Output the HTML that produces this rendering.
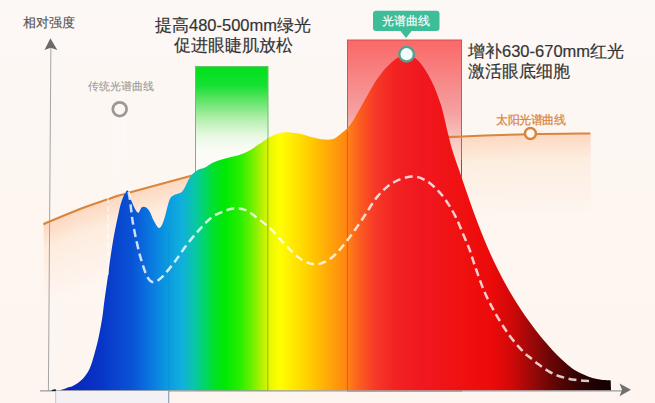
<!DOCTYPE html>
<html><head><meta charset="utf-8">
<style>
html,body{margin:0;padding:0;background:linear-gradient(#fcf8f5,#fdf6f1 50%,#fef5f0);}
body{width:655px;height:403px;overflow:hidden;position:relative;font-family:"Liberation Sans",sans-serif;}
svg{position:absolute;left:0;top:0;}
.t{position:absolute;white-space:nowrap;}
</style></head><body>
<svg width="655" height="403" viewBox="0 0 655 403">
<defs>
<linearGradient id="spec" x1="60" y1="0" x2="611" y2="0" gradientUnits="userSpaceOnUse">
<stop offset="0" stop-color="#0822b8"/>
<stop offset="0.0726" stop-color="#0834c6"/>
<stop offset="0.1325" stop-color="#0a54d6"/>
<stop offset="0.1633" stop-color="#0a76e0"/>
<stop offset="0.1906" stop-color="#0a96e0"/>
<stop offset="0.2214" stop-color="#10b0dc"/>
<stop offset="0.2468" stop-color="#08c8a0"/>
<stop offset="0.2650" stop-color="#00d860"/>
<stop offset="0.2795" stop-color="#00e028"/>
<stop offset="0.3013" stop-color="#00ea00"/>
<stop offset="0.3267" stop-color="#28ee00"/>
<stop offset="0.3466" stop-color="#66f000"/>
<stop offset="0.3666" stop-color="#b4f000"/>
<stop offset="0.3829" stop-color="#eef800"/>
<stop offset="0.3993" stop-color="#ffff00"/>
<stop offset="0.4574" stop-color="#ffc800"/>
<stop offset="0.5154" stop-color="#ff8a10"/>
<stop offset="0.5263" stop-color="#ff7a18"/>
<stop offset="0.5445" stop-color="#fc5c20"/>
<stop offset="0.5717" stop-color="#f63a28"/>
<stop offset="0.6080" stop-color="#f22222"/>
<stop offset="0.6534" stop-color="#f01820"/>
<stop offset="0.7314" stop-color="#f01010"/>
<stop offset="0.7840" stop-color="#ec0a0a"/>
<stop offset="0.8203" stop-color="#d00808"/>
<stop offset="0.8566" stop-color="#9c0808"/>
<stop offset="0.8929" stop-color="#660606"/>
<stop offset="0.9347" stop-color="#380303"/>
<stop offset="0.9764" stop-color="#1c0101"/>
<stop offset="1" stop-color="#150000"/>
</linearGradient>
<linearGradient id="sunf" x1="0" y1="134" x2="0" y2="320" gradientUnits="userSpaceOnUse">
<stop offset="0" stop-color="#fbe0cc" stop-opacity="0.55"/>
<stop offset="0.45" stop-color="#fce6d8" stop-opacity="0.45"/>
<stop offset="0.75" stop-color="#fdeee4" stop-opacity="0.25"/>
<stop offset="1" stop-color="#fdf6f1" stop-opacity="0"/>
</linearGradient>
<linearGradient id="grn" x1="0" y1="66" x2="0" y2="170" gradientUnits="userSpaceOnUse">
<stop offset="0" stop-color="#00e01a"/>
<stop offset="0.183" stop-color="#14e032"/>
<stop offset="0.327" stop-color="#5ee466"/>
<stop offset="0.500" stop-color="#b0eeaa"/>
<stop offset="0.663" stop-color="#e6f8e0"/>
<stop offset="0.808" stop-color="#fbfcf6"/>
<stop offset="1" stop-color="#fdfdfa" stop-opacity="0.7"/>
</linearGradient>
<linearGradient id="red" x1="0" y1="40" x2="0" y2="190" gradientUnits="userSpaceOnUse">
<stop offset="0" stop-color="#fb6868"/>
<stop offset="0.48" stop-color="#f5a0a0"/>
<stop offset="0.67" stop-color="#f8c8c0"/>
<stop offset="1" stop-color="#fdf0ea" stop-opacity="0.5"/>
</linearGradient>
</defs>
<!-- sun fill -->
<path d="M43.4,224.2 C49.5,221.7 68.1,213.6 80.0,209.0 C91.9,204.4 107.5,199.3 115.0,196.8 C122.5,194.3 112.4,197.3 125.0,193.8 C137.6,190.3 169.7,181.5 190.5,175.9 C211.3,170.3 228.4,164.7 250.0,160.0 C271.6,155.3 295.0,151.3 320.0,148.0 C345.0,144.7 376.3,141.9 400.0,140.0 C423.7,138.1 440.2,137.5 462.0,136.5 C483.8,135.5 509.1,134.7 530.5,134.2 C551.9,133.7 580.4,133.6 590.4,133.5 L590.4,139.5 C580.4,139.6 551.9,139.7 530.5,140.2 C509.1,140.7 483.8,141.5 462.0,142.5 C440.2,143.5 423.7,144.1 400.0,146.0 C376.3,147.9 345.0,150.7 320.0,154.0 C295.0,157.3 271.6,161.3 250.0,166.0 C228.4,170.7 211.3,176.3 190.5,181.9 C169.7,187.5 137.6,196.3 125.0,199.8 C112.4,203.3 122.5,200.3 115.0,202.8 C107.5,205.3 91.9,210.4 80.0,215.0 C68.1,219.6 49.5,227.7 43.4,230.2 Z" fill="#f9d0b2" fill-opacity="0.032"/>
<path d="M43.4,224.2 C49.5,221.7 68.1,213.6 80.0,209.0 C91.9,204.4 107.5,199.3 115.0,196.8 C122.5,194.3 112.4,197.3 125.0,193.8 C137.6,190.3 169.7,181.5 190.5,175.9 C211.3,170.3 228.4,164.7 250.0,160.0 C271.6,155.3 295.0,151.3 320.0,148.0 C345.0,144.7 376.3,141.9 400.0,140.0 C423.7,138.1 440.2,137.5 462.0,136.5 C483.8,135.5 509.1,134.7 530.5,134.2 C551.9,133.7 580.4,133.6 590.4,133.5 L590.4,145.5 C580.4,145.6 551.9,145.7 530.5,146.2 C509.1,146.7 483.8,147.5 462.0,148.5 C440.2,149.5 423.7,150.1 400.0,152.0 C376.3,153.9 345.0,156.7 320.0,160.0 C295.0,163.3 271.6,167.3 250.0,172.0 C228.4,176.7 211.3,182.3 190.5,187.9 C169.7,193.5 137.6,202.3 125.0,205.8 C112.4,209.3 122.5,206.3 115.0,208.8 C107.5,211.3 91.9,216.4 80.0,221.0 C68.1,225.6 49.5,233.7 43.4,236.2 Z" fill="#f9d0b2" fill-opacity="0.032"/>
<path d="M43.4,224.2 C49.5,221.7 68.1,213.6 80.0,209.0 C91.9,204.4 107.5,199.3 115.0,196.8 C122.5,194.3 112.4,197.3 125.0,193.8 C137.6,190.3 169.7,181.5 190.5,175.9 C211.3,170.3 228.4,164.7 250.0,160.0 C271.6,155.3 295.0,151.3 320.0,148.0 C345.0,144.7 376.3,141.9 400.0,140.0 C423.7,138.1 440.2,137.5 462.0,136.5 C483.8,135.5 509.1,134.7 530.5,134.2 C551.9,133.7 580.4,133.6 590.4,133.5 L590.4,151.5 C580.4,151.6 551.9,151.7 530.5,152.2 C509.1,152.7 483.8,153.5 462.0,154.5 C440.2,155.5 423.7,156.1 400.0,158.0 C376.3,159.9 345.0,162.7 320.0,166.0 C295.0,169.3 271.6,173.3 250.0,178.0 C228.4,182.7 211.3,188.3 190.5,193.9 C169.7,199.5 137.6,208.3 125.0,211.8 C112.4,215.3 122.5,212.3 115.0,214.8 C107.5,217.3 91.9,222.4 80.0,227.0 C68.1,231.6 49.5,239.7 43.4,242.2 Z" fill="#f9d0b2" fill-opacity="0.032"/>
<path d="M43.4,224.2 C49.5,221.7 68.1,213.6 80.0,209.0 C91.9,204.4 107.5,199.3 115.0,196.8 C122.5,194.3 112.4,197.3 125.0,193.8 C137.6,190.3 169.7,181.5 190.5,175.9 C211.3,170.3 228.4,164.7 250.0,160.0 C271.6,155.3 295.0,151.3 320.0,148.0 C345.0,144.7 376.3,141.9 400.0,140.0 C423.7,138.1 440.2,137.5 462.0,136.5 C483.8,135.5 509.1,134.7 530.5,134.2 C551.9,133.7 580.4,133.6 590.4,133.5 L590.4,157.5 C580.4,157.6 551.9,157.7 530.5,158.2 C509.1,158.7 483.8,159.5 462.0,160.5 C440.2,161.5 423.7,162.1 400.0,164.0 C376.3,165.9 345.0,168.7 320.0,172.0 C295.0,175.3 271.6,179.3 250.0,184.0 C228.4,188.7 211.3,194.3 190.5,199.9 C169.7,205.5 137.6,214.3 125.0,217.8 C112.4,221.3 122.5,218.3 115.0,220.8 C107.5,223.3 91.9,228.4 80.0,233.0 C68.1,237.6 49.5,245.7 43.4,248.2 Z" fill="#f9d0b2" fill-opacity="0.032"/>
<path d="M43.4,224.2 C49.5,221.7 68.1,213.6 80.0,209.0 C91.9,204.4 107.5,199.3 115.0,196.8 C122.5,194.3 112.4,197.3 125.0,193.8 C137.6,190.3 169.7,181.5 190.5,175.9 C211.3,170.3 228.4,164.7 250.0,160.0 C271.6,155.3 295.0,151.3 320.0,148.0 C345.0,144.7 376.3,141.9 400.0,140.0 C423.7,138.1 440.2,137.5 462.0,136.5 C483.8,135.5 509.1,134.7 530.5,134.2 C551.9,133.7 580.4,133.6 590.4,133.5 L590.4,163.5 C580.4,163.6 551.9,163.7 530.5,164.2 C509.1,164.7 483.8,165.5 462.0,166.5 C440.2,167.5 423.7,168.1 400.0,170.0 C376.3,171.9 345.0,174.7 320.0,178.0 C295.0,181.3 271.6,185.3 250.0,190.0 C228.4,194.7 211.3,200.3 190.5,205.9 C169.7,211.5 137.6,220.3 125.0,223.8 C112.4,227.3 122.5,224.3 115.0,226.8 C107.5,229.3 91.9,234.4 80.0,239.0 C68.1,243.6 49.5,251.7 43.4,254.2 Z" fill="#f9d0b2" fill-opacity="0.032"/>
<path d="M43.4,224.2 C49.5,221.7 68.1,213.6 80.0,209.0 C91.9,204.4 107.5,199.3 115.0,196.8 C122.5,194.3 112.4,197.3 125.0,193.8 C137.6,190.3 169.7,181.5 190.5,175.9 C211.3,170.3 228.4,164.7 250.0,160.0 C271.6,155.3 295.0,151.3 320.0,148.0 C345.0,144.7 376.3,141.9 400.0,140.0 C423.7,138.1 440.2,137.5 462.0,136.5 C483.8,135.5 509.1,134.7 530.5,134.2 C551.9,133.7 580.4,133.6 590.4,133.5 L590.4,169.5 C580.4,169.6 551.9,169.7 530.5,170.2 C509.1,170.7 483.8,171.5 462.0,172.5 C440.2,173.5 423.7,174.1 400.0,176.0 C376.3,177.9 345.0,180.7 320.0,184.0 C295.0,187.3 271.6,191.3 250.0,196.0 C228.4,200.7 211.3,206.3 190.5,211.9 C169.7,217.5 137.6,226.3 125.0,229.8 C112.4,233.3 122.5,230.3 115.0,232.8 C107.5,235.3 91.9,240.4 80.0,245.0 C68.1,249.6 49.5,257.7 43.4,260.2 Z" fill="#f9d0b2" fill-opacity="0.032"/>
<path d="M43.4,224.2 C49.5,221.7 68.1,213.6 80.0,209.0 C91.9,204.4 107.5,199.3 115.0,196.8 C122.5,194.3 112.4,197.3 125.0,193.8 C137.6,190.3 169.7,181.5 190.5,175.9 C211.3,170.3 228.4,164.7 250.0,160.0 C271.6,155.3 295.0,151.3 320.0,148.0 C345.0,144.7 376.3,141.9 400.0,140.0 C423.7,138.1 440.2,137.5 462.0,136.5 C483.8,135.5 509.1,134.7 530.5,134.2 C551.9,133.7 580.4,133.6 590.4,133.5 L590.4,175.5 C580.4,175.6 551.9,175.7 530.5,176.2 C509.1,176.7 483.8,177.5 462.0,178.5 C440.2,179.5 423.7,180.1 400.0,182.0 C376.3,183.9 345.0,186.7 320.0,190.0 C295.0,193.3 271.6,197.3 250.0,202.0 C228.4,206.7 211.3,212.3 190.5,217.9 C169.7,223.5 137.6,232.3 125.0,235.8 C112.4,239.3 122.5,236.3 115.0,238.8 C107.5,241.3 91.9,246.4 80.0,251.0 C68.1,255.6 49.5,263.7 43.4,266.2 Z" fill="#f9d0b2" fill-opacity="0.032"/>
<path d="M43.4,224.2 C49.5,221.7 68.1,213.6 80.0,209.0 C91.9,204.4 107.5,199.3 115.0,196.8 C122.5,194.3 112.4,197.3 125.0,193.8 C137.6,190.3 169.7,181.5 190.5,175.9 C211.3,170.3 228.4,164.7 250.0,160.0 C271.6,155.3 295.0,151.3 320.0,148.0 C345.0,144.7 376.3,141.9 400.0,140.0 C423.7,138.1 440.2,137.5 462.0,136.5 C483.8,135.5 509.1,134.7 530.5,134.2 C551.9,133.7 580.4,133.6 590.4,133.5 L590.4,181.5 C580.4,181.6 551.9,181.7 530.5,182.2 C509.1,182.7 483.8,183.5 462.0,184.5 C440.2,185.5 423.7,186.1 400.0,188.0 C376.3,189.9 345.0,192.7 320.0,196.0 C295.0,199.3 271.6,203.3 250.0,208.0 C228.4,212.7 211.3,218.3 190.5,223.9 C169.7,229.5 137.6,238.3 125.0,241.8 C112.4,245.3 122.5,242.3 115.0,244.8 C107.5,247.3 91.9,252.4 80.0,257.0 C68.1,261.6 49.5,269.7 43.4,272.2 Z" fill="#f9d0b2" fill-opacity="0.032"/>
<path d="M43.4,224.2 C49.5,221.7 68.1,213.6 80.0,209.0 C91.9,204.4 107.5,199.3 115.0,196.8 C122.5,194.3 112.4,197.3 125.0,193.8 C137.6,190.3 169.7,181.5 190.5,175.9 C211.3,170.3 228.4,164.7 250.0,160.0 C271.6,155.3 295.0,151.3 320.0,148.0 C345.0,144.7 376.3,141.9 400.0,140.0 C423.7,138.1 440.2,137.5 462.0,136.5 C483.8,135.5 509.1,134.7 530.5,134.2 C551.9,133.7 580.4,133.6 590.4,133.5 L590.4,187.5 C580.4,187.6 551.9,187.7 530.5,188.2 C509.1,188.7 483.8,189.5 462.0,190.5 C440.2,191.5 423.7,192.1 400.0,194.0 C376.3,195.9 345.0,198.7 320.0,202.0 C295.0,205.3 271.6,209.3 250.0,214.0 C228.4,218.7 211.3,224.3 190.5,229.9 C169.7,235.5 137.6,244.3 125.0,247.8 C112.4,251.3 122.5,248.3 115.0,250.8 C107.5,253.3 91.9,258.4 80.0,263.0 C68.1,267.6 49.5,275.7 43.4,278.2 Z" fill="#f9d0b2" fill-opacity="0.032"/>
<path d="M43.4,224.2 C49.5,221.7 68.1,213.6 80.0,209.0 C91.9,204.4 107.5,199.3 115.0,196.8 C122.5,194.3 112.4,197.3 125.0,193.8 C137.6,190.3 169.7,181.5 190.5,175.9 C211.3,170.3 228.4,164.7 250.0,160.0 C271.6,155.3 295.0,151.3 320.0,148.0 C345.0,144.7 376.3,141.9 400.0,140.0 C423.7,138.1 440.2,137.5 462.0,136.5 C483.8,135.5 509.1,134.7 530.5,134.2 C551.9,133.7 580.4,133.6 590.4,133.5 L590.4,193.5 C580.4,193.6 551.9,193.7 530.5,194.2 C509.1,194.7 483.8,195.5 462.0,196.5 C440.2,197.5 423.7,198.1 400.0,200.0 C376.3,201.9 345.0,204.7 320.0,208.0 C295.0,211.3 271.6,215.3 250.0,220.0 C228.4,224.7 211.3,230.3 190.5,235.9 C169.7,241.5 137.6,250.3 125.0,253.8 C112.4,257.3 122.5,254.3 115.0,256.8 C107.5,259.3 91.9,264.4 80.0,269.0 C68.1,273.6 49.5,281.7 43.4,284.2 Z" fill="#f9d0b2" fill-opacity="0.032"/>
<path d="M43.4,224.2 C49.5,221.7 68.1,213.6 80.0,209.0 C91.9,204.4 107.5,199.3 115.0,196.8 C122.5,194.3 112.4,197.3 125.0,193.8 C137.6,190.3 169.7,181.5 190.5,175.9 C211.3,170.3 228.4,164.7 250.0,160.0 C271.6,155.3 295.0,151.3 320.0,148.0 C345.0,144.7 376.3,141.9 400.0,140.0 C423.7,138.1 440.2,137.5 462.0,136.5 C483.8,135.5 509.1,134.7 530.5,134.2 C551.9,133.7 580.4,133.6 590.4,133.5 L590.4,199.5 C580.4,199.6 551.9,199.7 530.5,200.2 C509.1,200.7 483.8,201.5 462.0,202.5 C440.2,203.5 423.7,204.1 400.0,206.0 C376.3,207.9 345.0,210.7 320.0,214.0 C295.0,217.3 271.6,221.3 250.0,226.0 C228.4,230.7 211.3,236.3 190.5,241.9 C169.7,247.5 137.6,256.3 125.0,259.8 C112.4,263.3 122.5,260.3 115.0,262.8 C107.5,265.3 91.9,270.4 80.0,275.0 C68.1,279.6 49.5,287.7 43.4,290.2 Z" fill="#f9d0b2" fill-opacity="0.032"/>
<path d="M43.4,224.2 C49.5,221.7 68.1,213.6 80.0,209.0 C91.9,204.4 107.5,199.3 115.0,196.8 C122.5,194.3 112.4,197.3 125.0,193.8 C137.6,190.3 169.7,181.5 190.5,175.9 C211.3,170.3 228.4,164.7 250.0,160.0 C271.6,155.3 295.0,151.3 320.0,148.0 C345.0,144.7 376.3,141.9 400.0,140.0 C423.7,138.1 440.2,137.5 462.0,136.5 C483.8,135.5 509.1,134.7 530.5,134.2 C551.9,133.7 580.4,133.6 590.4,133.5 L590.4,205.5 C580.4,205.6 551.9,205.7 530.5,206.2 C509.1,206.7 483.8,207.5 462.0,208.5 C440.2,209.5 423.7,210.1 400.0,212.0 C376.3,213.9 345.0,216.7 320.0,220.0 C295.0,223.3 271.6,227.3 250.0,232.0 C228.4,236.7 211.3,242.3 190.5,247.9 C169.7,253.5 137.6,262.3 125.0,265.8 C112.4,269.3 122.5,266.3 115.0,268.8 C107.5,271.3 91.9,276.4 80.0,281.0 C68.1,285.6 49.5,293.7 43.4,296.2 Z" fill="#f9d0b2" fill-opacity="0.032"/>
<path d="M43.4,224.2 C49.5,221.7 68.1,213.6 80.0,209.0 C91.9,204.4 107.5,199.3 115.0,196.8 C122.5,194.3 112.4,197.3 125.0,193.8 C137.6,190.3 169.7,181.5 190.5,175.9 C211.3,170.3 228.4,164.7 250.0,160.0 C271.6,155.3 295.0,151.3 320.0,148.0 C345.0,144.7 376.3,141.9 400.0,140.0 C423.7,138.1 440.2,137.5 462.0,136.5 C483.8,135.5 509.1,134.7 530.5,134.2 C551.9,133.7 580.4,133.6 590.4,133.5 L590.4,211.5 C580.4,211.6 551.9,211.7 530.5,212.2 C509.1,212.7 483.8,213.5 462.0,214.5 C440.2,215.5 423.7,216.1 400.0,218.0 C376.3,219.9 345.0,222.7 320.0,226.0 C295.0,229.3 271.6,233.3 250.0,238.0 C228.4,242.7 211.3,248.3 190.5,253.9 C169.7,259.5 137.6,268.3 125.0,271.8 C112.4,275.3 122.5,272.3 115.0,274.8 C107.5,277.3 91.9,282.4 80.0,287.0 C68.1,291.6 49.5,299.7 43.4,302.2 Z" fill="#f9d0b2" fill-opacity="0.032"/>
<path d="M43.4,224.2 C49.5,221.7 68.1,213.6 80.0,209.0 C91.9,204.4 107.5,199.3 115.0,196.8 C122.5,194.3 112.4,197.3 125.0,193.8 C137.6,190.3 169.7,181.5 190.5,175.9 C211.3,170.3 228.4,164.7 250.0,160.0 C271.6,155.3 295.0,151.3 320.0,148.0 C345.0,144.7 376.3,141.9 400.0,140.0 C423.7,138.1 440.2,137.5 462.0,136.5 C483.8,135.5 509.1,134.7 530.5,134.2 C551.9,133.7 580.4,133.6 590.4,133.5 L590.4,136.5 C580.4,136.6 551.9,136.7 530.5,137.2 C509.1,137.7 483.8,138.5 462.0,139.5 C440.2,140.5 423.7,141.1 400.0,143.0 C376.3,144.9 345.0,147.7 320.0,151.0 C295.0,154.3 271.6,158.3 250.0,163.0 C228.4,167.7 211.3,173.3 190.5,178.9 C169.7,184.5 137.6,193.3 125.0,196.8 C112.4,200.3 122.5,197.3 115.0,199.8 C107.5,202.3 91.9,207.4 80.0,212.0 C68.1,216.6 49.5,224.7 43.4,227.2 Z" fill="#f8c4a0" fill-opacity="0.05"/>
<path d="M43.4,224.2 C49.5,221.7 68.1,213.6 80.0,209.0 C91.9,204.4 107.5,199.3 115.0,196.8 C122.5,194.3 112.4,197.3 125.0,193.8 C137.6,190.3 169.7,181.5 190.5,175.9 C211.3,170.3 228.4,164.7 250.0,160.0 C271.6,155.3 295.0,151.3 320.0,148.0 C345.0,144.7 376.3,141.9 400.0,140.0 C423.7,138.1 440.2,137.5 462.0,136.5 C483.8,135.5 509.1,134.7 530.5,134.2 C551.9,133.7 580.4,133.6 590.4,133.5 L590.4,139.5 C580.4,139.6 551.9,139.7 530.5,140.2 C509.1,140.7 483.8,141.5 462.0,142.5 C440.2,143.5 423.7,144.1 400.0,146.0 C376.3,147.9 345.0,150.7 320.0,154.0 C295.0,157.3 271.6,161.3 250.0,166.0 C228.4,170.7 211.3,176.3 190.5,181.9 C169.7,187.5 137.6,196.3 125.0,199.8 C112.4,203.3 122.5,200.3 115.0,202.8 C107.5,205.3 91.9,210.4 80.0,215.0 C68.1,219.6 49.5,227.7 43.4,230.2 Z" fill="#f8c4a0" fill-opacity="0.05"/>
<path d="M43.4,224.2 C49.5,221.7 68.1,213.6 80.0,209.0 C91.9,204.4 107.5,199.3 115.0,196.8 C122.5,194.3 112.4,197.3 125.0,193.8 C137.6,190.3 169.7,181.5 190.5,175.9 C211.3,170.3 228.4,164.7 250.0,160.0 C271.6,155.3 295.0,151.3 320.0,148.0 C345.0,144.7 376.3,141.9 400.0,140.0 C423.7,138.1 440.2,137.5 462.0,136.5 C483.8,135.5 509.1,134.7 530.5,134.2 C551.9,133.7 580.4,133.6 590.4,133.5 L590.4,142.5 C580.4,142.6 551.9,142.7 530.5,143.2 C509.1,143.7 483.8,144.5 462.0,145.5 C440.2,146.5 423.7,147.1 400.0,149.0 C376.3,150.9 345.0,153.7 320.0,157.0 C295.0,160.3 271.6,164.3 250.0,169.0 C228.4,173.7 211.3,179.3 190.5,184.9 C169.7,190.5 137.6,199.3 125.0,202.8 C112.4,206.3 122.5,203.3 115.0,205.8 C107.5,208.3 91.9,213.4 80.0,218.0 C68.1,222.6 49.5,230.7 43.4,233.2 Z" fill="#f8c4a0" fill-opacity="0.05"/>
<path d="M43.4,224.2 C49.5,221.7 68.1,213.6 80.0,209.0 C91.9,204.4 107.5,199.3 115.0,196.8 C122.5,194.3 112.4,197.3 125.0,193.8 C137.6,190.3 169.7,181.5 190.5,175.9 C211.3,170.3 228.4,164.7 250.0,160.0 C271.6,155.3 295.0,151.3 320.0,148.0 C345.0,144.7 376.3,141.9 400.0,140.0 C423.7,138.1 440.2,137.5 462.0,136.5 C483.8,135.5 509.1,134.7 530.5,134.2 C551.9,133.7 580.4,133.6 590.4,133.5 L590.4,145.5 C580.4,145.6 551.9,145.7 530.5,146.2 C509.1,146.7 483.8,147.5 462.0,148.5 C440.2,149.5 423.7,150.1 400.0,152.0 C376.3,153.9 345.0,156.7 320.0,160.0 C295.0,163.3 271.6,167.3 250.0,172.0 C228.4,176.7 211.3,182.3 190.5,187.9 C169.7,193.5 137.6,202.3 125.0,205.8 C112.4,209.3 122.5,206.3 115.0,208.8 C107.5,211.3 91.9,216.4 80.0,221.0 C68.1,225.6 49.5,233.7 43.4,236.2 Z" fill="#f8c4a0" fill-opacity="0.05"/>
<path d="M43.4,224.2 C49.5,221.7 68.1,213.6 80.0,209.0 C91.9,204.4 107.5,199.3 115.0,196.8 C122.5,194.3 112.4,197.3 125.0,193.8 C137.6,190.3 169.7,181.5 190.5,175.9 C211.3,170.3 228.4,164.7 250.0,160.0 C271.6,155.3 295.0,151.3 320.0,148.0 C345.0,144.7 376.3,141.9 400.0,140.0 C423.7,138.1 440.2,137.5 462.0,136.5 C483.8,135.5 509.1,134.7 530.5,134.2 C551.9,133.7 580.4,133.6 590.4,133.5 L590.4,148.5 C580.4,148.6 551.9,148.7 530.5,149.2 C509.1,149.7 483.8,150.5 462.0,151.5 C440.2,152.5 423.7,153.1 400.0,155.0 C376.3,156.9 345.0,159.7 320.0,163.0 C295.0,166.3 271.6,170.3 250.0,175.0 C228.4,179.7 211.3,185.3 190.5,190.9 C169.7,196.5 137.6,205.3 125.0,208.8 C112.4,212.3 122.5,209.3 115.0,211.8 C107.5,214.3 91.9,219.4 80.0,224.0 C68.1,228.6 49.5,236.7 43.4,239.2 Z" fill="#f8c4a0" fill-opacity="0.05"/>
<path d="M43.4,224.2 C49.5,221.7 68.1,213.6 80.0,209.0 C91.9,204.4 107.5,199.3 115.0,196.8 C122.5,194.3 112.4,197.3 125.0,193.8 C137.6,190.3 169.7,181.5 190.5,175.9 C211.3,170.3 228.4,164.7 250.0,160.0 C271.6,155.3 295.0,151.3 320.0,148.0 C345.0,144.7 376.3,141.9 400.0,140.0 C423.7,138.1 440.2,137.5 462.0,136.5 C483.8,135.5 509.1,134.7 530.5,134.2 C551.9,133.7 580.4,133.6 590.4,133.5 L590.4,151.5 C580.4,151.6 551.9,151.7 530.5,152.2 C509.1,152.7 483.8,153.5 462.0,154.5 C440.2,155.5 423.7,156.1 400.0,158.0 C376.3,159.9 345.0,162.7 320.0,166.0 C295.0,169.3 271.6,173.3 250.0,178.0 C228.4,182.7 211.3,188.3 190.5,193.9 C169.7,199.5 137.6,208.3 125.0,211.8 C112.4,215.3 122.5,212.3 115.0,214.8 C107.5,217.3 91.9,222.4 80.0,227.0 C68.1,231.6 49.5,239.7 43.4,242.2 Z" fill="#f8c4a0" fill-opacity="0.05"/>
<path d="M43.4,224.2 C49.5,221.7 68.1,213.6 80.0,209.0 C91.9,204.4 107.5,199.3 115.0,196.8 C122.5,194.3 112.4,197.3 125.0,193.8 C137.6,190.3 169.7,181.5 190.5,175.9 C211.3,170.3 228.4,164.7 250.0,160.0 C271.6,155.3 295.0,151.3 320.0,148.0 C345.0,144.7 376.3,141.9 400.0,140.0 C423.7,138.1 440.2,137.5 462.0,136.5 C483.8,135.5 509.1,134.7 530.5,134.2 C551.9,133.7 580.4,133.6 590.4,133.5 L590.4,154.5 C580.4,154.6 551.9,154.7 530.5,155.2 C509.1,155.7 483.8,156.5 462.0,157.5 C440.2,158.5 423.7,159.1 400.0,161.0 C376.3,162.9 345.0,165.7 320.0,169.0 C295.0,172.3 271.6,176.3 250.0,181.0 C228.4,185.7 211.3,191.3 190.5,196.9 C169.7,202.5 137.6,211.3 125.0,214.8 C112.4,218.3 122.5,215.3 115.0,217.8 C107.5,220.3 91.9,225.4 80.0,230.0 C68.1,234.6 49.5,242.7 43.4,245.2 Z" fill="#f8c4a0" fill-opacity="0.05"/>
<path d="M43.4,224.2 C49.5,221.7 68.1,213.6 80.0,209.0 C91.9,204.4 107.5,199.3 115.0,196.8 C122.5,194.3 112.4,197.3 125.0,193.8 C137.6,190.3 169.7,181.5 190.5,175.9 C211.3,170.3 228.4,164.7 250.0,160.0 C271.6,155.3 295.0,151.3 320.0,148.0 C345.0,144.7 376.3,141.9 400.0,140.0 C423.7,138.1 440.2,137.5 462.0,136.5 C483.8,135.5 509.1,134.7 530.5,134.2 C551.9,133.7 580.4,133.6 590.4,133.5 L590.4,157.5 C580.4,157.6 551.9,157.7 530.5,158.2 C509.1,158.7 483.8,159.5 462.0,160.5 C440.2,161.5 423.7,162.1 400.0,164.0 C376.3,165.9 345.0,168.7 320.0,172.0 C295.0,175.3 271.6,179.3 250.0,184.0 C228.4,188.7 211.3,194.3 190.5,199.9 C169.7,205.5 137.6,214.3 125.0,217.8 C112.4,221.3 122.5,218.3 115.0,220.8 C107.5,223.3 91.9,228.4 80.0,233.0 C68.1,237.6 49.5,245.7 43.4,248.2 Z" fill="#f8c4a0" fill-opacity="0.05"/>

<!-- axes -->
<line x1="50.9" y1="46" x2="48.4" y2="391" stroke="#a4a4a4" stroke-width="1"/>
<path d="M50.4,38.3 L57.3,50 L50.7,47.8 L44.5,50 Z" fill="#6a6a6a"/>
<!-- green rect -->
<rect x="195.5" y="66.5" width="72.5" height="324" fill="url(#grn)" stroke="#66c466" stroke-width="1"/>
<!-- red rect -->
<rect x="347.5" y="40" width="114" height="351" fill="url(#red)" stroke="#d85050" stroke-width="1"/>
<!-- sun line -->
<path d="M43.4,224.2 C49.5,221.7 68.1,213.6 80.0,209.0 C91.9,204.4 107.5,199.3 115.0,196.8 C122.5,194.3 112.4,197.3 125.0,193.8 C137.6,190.3 169.7,181.5 190.5,175.9 C211.3,170.3 228.4,164.7 250.0,160.0 C271.6,155.3 295.0,151.3 320.0,148.0 C345.0,144.7 376.3,141.9 400.0,140.0 C423.7,138.1 440.2,137.5 462.0,136.5 C483.8,135.5 509.1,134.7 530.5,134.2 C551.9,133.7 580.4,133.6 590.4,133.5" fill="none" stroke="#d9853c" stroke-width="2.1"/>
<!-- spectrum -->
<path d="M60.0,390.5 C60.4,390.3 61.2,389.9 62.3,389.5 C63.4,389.1 64.9,388.5 66.8,387.9 C68.7,387.2 71.0,387.1 73.7,385.6 C76.4,384.1 80.1,381.7 82.8,378.8 C85.5,375.9 87.8,372.5 89.7,368.5 C91.6,364.5 92.7,360.1 94.2,354.8 C95.7,349.5 97.5,342.6 98.8,336.5 C100.1,330.4 101.2,324.4 102.2,318.3 C103.2,312.2 103.5,307.0 104.5,300.0 C105.5,293.0 106.9,283.6 107.9,276.3 C108.9,269.0 109.6,263.0 110.6,256.4 C111.6,249.8 112.6,243.2 113.8,236.6 C115.0,230.0 116.5,222.6 117.8,216.7 C119.1,210.8 120.1,205.3 121.7,200.9 C123.3,196.5 125.8,190.7 127.3,190.5 C128.8,190.3 129.6,196.7 130.9,199.7 C132.2,202.7 133.7,206.5 134.9,208.7 C136.2,210.9 137.2,212.9 138.4,212.7 C139.6,212.5 140.6,208.2 141.8,207.3 C143.0,206.4 144.5,206.6 145.8,207.3 C147.1,208.0 148.5,209.5 149.8,211.7 C151.1,213.9 152.3,218.0 153.7,220.6 C155.1,223.2 156.8,226.4 158.0,227.4 C159.2,228.4 160.0,228.2 161.1,226.6 C162.2,225.0 163.3,222.1 164.7,217.6 C166.1,213.1 167.9,203.5 169.6,199.7 C171.2,195.9 172.8,196.0 174.6,194.8 C176.4,193.7 178.9,193.9 180.6,192.8 C182.2,191.7 183.0,190.5 184.5,188.0 C186.0,185.5 187.8,180.6 189.5,178.0 C191.2,175.4 192.8,173.8 194.5,172.3 C196.2,170.8 197.7,170.0 199.4,169.2 C201.2,168.4 203.3,168.2 205.0,167.4 C206.7,166.7 207.4,165.8 209.4,164.7 C211.4,163.6 213.8,162.1 216.8,161.0 C219.8,159.9 223.5,159.0 227.2,158.0 C230.9,157.0 235.5,156.2 239.2,155.0 C242.9,153.8 246.4,152.2 249.6,150.5 C252.8,148.8 255.5,146.6 258.5,144.6 C261.5,142.6 264.7,140.1 267.5,138.4 C270.3,136.7 272.7,135.4 275.3,134.4 C277.9,133.4 280.4,132.9 282.9,132.6 C285.4,132.3 287.7,132.2 290.5,132.4 C293.3,132.6 295.9,132.8 299.7,133.7 C303.5,134.5 309.3,136.5 313.4,137.5 C317.5,138.5 320.8,139.3 324.1,139.6 C327.4,139.8 330.7,139.8 333.3,139.0 C335.9,138.2 337.1,136.9 340.0,134.5 C342.9,132.1 346.7,129.6 350.4,124.6 C354.1,119.6 357.8,112.1 362.3,104.5 C366.8,96.9 372.2,86.1 377.2,79.0 C382.1,71.9 387.1,66.1 392.0,62.0 C396.9,57.9 402.0,54.6 406.5,54.5 C411.0,54.4 414.9,57.2 419.0,61.5 C423.1,65.8 427.4,72.8 431.0,80.0 C434.6,87.2 437.9,95.5 440.8,104.5 C443.7,113.5 446.3,126.7 448.2,134.3 C450.1,141.9 450.5,144.1 452.3,150.0 C454.1,155.9 456.8,163.3 459.1,170.0 C461.4,176.7 463.6,183.3 465.9,190.0 C468.2,196.7 470.5,203.3 472.9,210.0 C475.3,216.7 477.8,223.3 480.4,230.0 C483.0,236.7 485.8,243.3 488.7,250.0 C491.6,256.7 494.8,263.3 498.1,270.0 C501.5,276.7 504.9,283.3 508.8,290.0 C512.6,296.7 516.8,303.3 521.2,310.0 C525.7,316.7 531.0,324.2 535.5,330.0 C540.0,335.8 544.4,340.9 547.9,345.0 C551.4,349.1 553.8,351.8 556.8,354.8 C559.8,357.8 562.7,360.4 565.7,362.9 C568.7,365.4 571.6,368.1 574.6,370.0 C577.6,371.9 580.6,373.2 583.6,374.5 C586.6,375.8 589.5,377.1 592.5,378.0 C595.5,378.9 598.4,379.4 601.4,379.8 C604.4,380.2 609.2,380.3 610.7,380.4 L611,390.5 Z" fill="url(#spec)"/>
<line x1="168.7" y1="232" x2="168.7" y2="391" stroke="#2060a0" stroke-opacity="0.15" stroke-width="1"/>
<line x1="267.8" y1="138" x2="267.8" y2="391" stroke="#3a8a20" stroke-opacity="0.5" stroke-width="1"/>
<line x1="347.5" y1="131" x2="347.5" y2="391" stroke="#c05010" stroke-opacity="0.6" stroke-width="1"/>
<line x1="461.5" y1="160" x2="461.5" y2="176" stroke="#a02020" stroke-opacity="0.5" stroke-width="1"/>
<!-- dashed -->
<path d="M128.5,192.0 C128.8,193.3 129.3,195.4 130.0,200.0 C130.7,204.6 131.4,213.2 132.4,219.8 C133.4,226.4 134.8,233.0 136.2,239.6 C137.6,246.2 139.2,253.2 141.1,259.4 C142.9,265.6 145.2,273.0 147.3,276.8 C149.4,280.6 151.0,282.2 153.5,282.2 C156.0,282.2 158.7,280.2 162.2,276.8 C165.7,273.4 170.5,267.3 174.6,261.9 C178.7,256.5 182.9,249.9 187.0,244.5 C191.1,239.1 195.3,234.2 199.4,229.7 C203.5,225.2 207.7,220.4 211.8,217.3 C215.9,214.2 220.5,212.6 224.2,211.1 C227.9,209.6 230.6,208.8 234.1,208.6 C237.6,208.4 241.5,208.5 245.0,209.8 C248.5,211.1 251.1,213.3 255.3,216.5 C259.6,219.7 265.4,223.9 270.5,228.7 C275.6,233.5 280.7,240.4 285.8,245.5 C290.9,250.6 296.0,256.1 301.1,259.2 C306.2,262.3 311.2,264.6 316.3,264.4 C321.4,264.1 326.5,261.6 331.6,257.7 C336.7,253.8 341.8,247.3 346.9,240.9 C352.0,234.5 357.0,226.9 362.1,219.5 C367.2,212.1 372.3,202.7 377.4,196.6 C382.5,190.5 387.1,186.2 392.7,182.9 C398.3,179.6 405.6,177.0 411.0,176.5 C416.4,176.0 420.4,177.7 424.8,179.9 C429.2,182.1 433.5,186.1 437.2,189.8 C440.9,193.5 444.0,197.6 447.1,202.2 C450.2,206.8 453.1,211.7 455.8,217.1 C458.5,222.5 461.0,229.1 463.3,234.5 C465.6,239.9 467.6,244.4 469.5,249.4 C471.4,254.4 472.0,257.5 474.4,264.3 C476.8,271.1 480.4,282.1 483.7,290.0 C487.0,297.9 490.2,304.0 494.3,311.4 C498.4,318.8 503.8,327.5 508.5,334.2 C513.2,340.9 519.2,347.4 522.8,351.3 C526.4,355.2 527.3,355.3 530.0,357.5 C532.7,359.7 535.9,362.4 538.9,364.6 C541.9,366.8 544.9,369.1 547.9,370.9 C550.9,372.7 553.8,374.2 556.8,375.4 C559.8,376.6 562.7,377.3 565.7,378.0 C568.7,378.7 571.6,379.4 574.6,379.8 C577.6,380.2 580.8,380.5 583.6,380.7 C586.4,380.9 590.3,380.9 591.6,380.9" fill="none" stroke="#ffffff" stroke-opacity="0.8" stroke-width="2.5" stroke-dasharray="8 4.5"/>
<line x1="108" y1="197" x2="108" y2="276" stroke="#ffffff" stroke-width="1.3" stroke-dasharray="6 3" stroke-opacity="0.7"/>
<!-- x axis -->
<line x1="40" y1="390.8" x2="625" y2="390.8" stroke="#9a9a9a" stroke-width="1.2"/>
<path d="M51,391 Q53,388.6 56,389.6 L56,391 Z" fill="#1a2050"/>
<path d="M631,389.8 L619.5,383.4 L622,389.8 L619.5,396.3 Z" fill="#707070"/>
<!-- bottom box -->
<rect x="55.7" y="391" width="113" height="14" fill="#f3f1f3"/>
<line x1="55.7" y1="391" x2="55.7" y2="403" stroke="#b8c8d8" stroke-width="1"/>
<line x1="168.7" y1="391" x2="168.7" y2="403" stroke="#8aa0bc" stroke-width="1.2"/>
<!-- circles -->
<rect x="113.5" y="117" width="12" height="76" fill="#ffffff" fill-opacity="0.18" stroke="#ffffff" stroke-opacity="0.4" stroke-width="1"/>
<circle cx="119.7" cy="109.2" r="6.9" fill="#fdf6f1" stroke="#9c9894" stroke-width="2.7"/>
<circle cx="530.4" cy="133.6" r="5.5" fill="#fdf6f1" stroke="#d9853c" stroke-width="2.5"/>
<circle cx="406.6" cy="54.2" r="7.3" fill="#f4fffc" stroke="#56a090" stroke-width="2.4"/>
<!-- tag -->
<rect x="373" y="10.7" width="66.5" height="20.3" rx="3" fill="#3dbd98"/>
<path d="M400,30.5 L412,30.5 L406,38 Z" fill="#3dbd98"/>
</svg>
<div class="t" style="left:23px;top:14px;font-size:13px;color:#555;-webkit-text-stroke:0.15px #555;">相对强度</div>
<div class="t" style="left:153px;top:14.8px;font-size:16.5px;line-height:20.2px;color:#333;text-align:center;width:160px;-webkit-text-stroke:0.18px #333;">提高480-500mm绿光<br>促进眼睫肌放松</div>
<div class="t" style="left:88px;top:78.5px;font-size:11.2px;color:#a09c98;-webkit-text-stroke:0.12px #a09c98;">传统光谱曲线</div>
<div class="t" style="left:382px;top:13px;font-size:12px;color:#fff;-webkit-text-stroke:0.15px #fff;">光谱曲线</div>
<div class="t" style="left:468px;top:40.5px;font-size:16.5px;line-height:20px;color:#333;-webkit-text-stroke:0.18px #333;">增补630-670mm红光<br>激活眼底细胞</div>
<div class="t" style="left:496px;top:112.2px;font-size:12px;transform:scale(0.96);transform-origin:0 0;color:#d9823a;-webkit-text-stroke:0.2px #d9823a;">太阳光谱曲线</div>
</body></html>
